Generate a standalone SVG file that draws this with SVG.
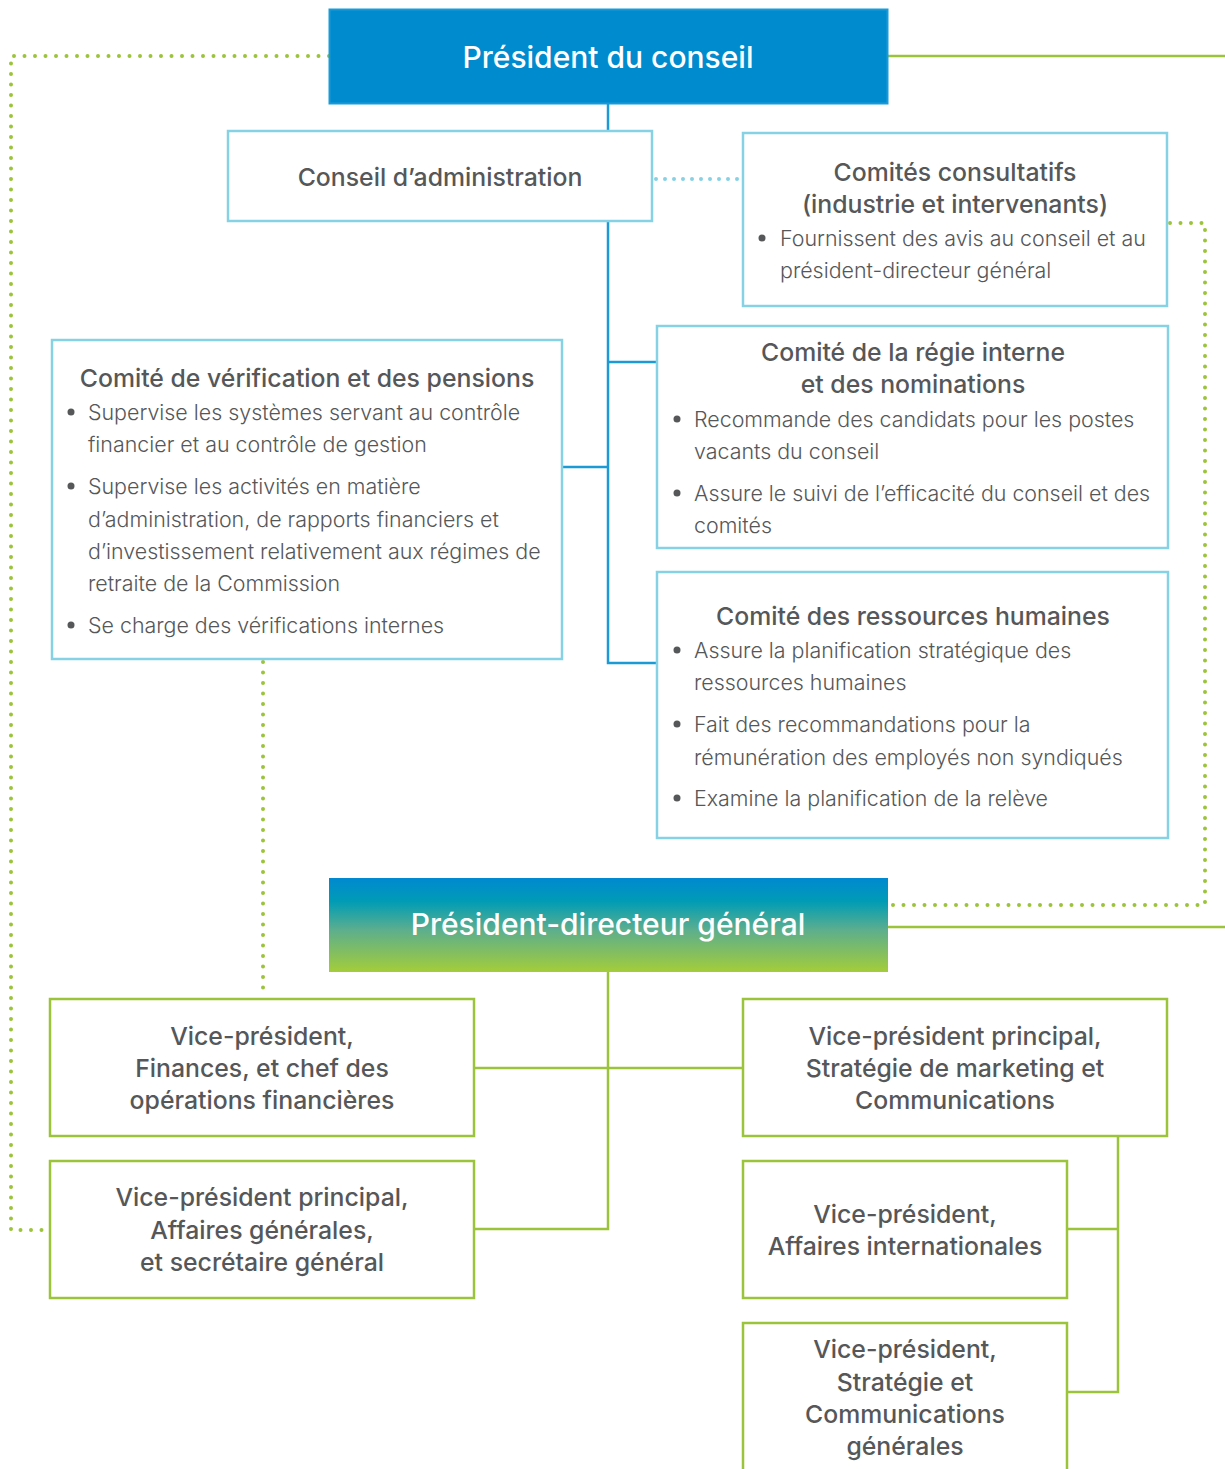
<svg xmlns="http://www.w3.org/2000/svg" width="1225" height="1469" viewBox="0 0 1225 1469">
<defs>
<linearGradient id="pdg" x1="0" y1="0" x2="0" y2="1">
<stop offset="0" stop-color="#0089D0"/>
<stop offset="0.25" stop-color="#009CB5"/>
<stop offset="0.55" stop-color="#5CAE8E"/>
<stop offset="1" stop-color="#A4CD39"/>
</linearGradient>
<style>
.t{font-family:Inter,Roboto,"Liberation Sans",sans-serif;fill:#555759;}
.h{font-size:24.8px;font-weight:500;text-anchor:middle;}
.b{font-size:21.4px;font-weight:300;}
.w{font-family:Inter,Roboto,"Liberation Sans",sans-serif;fill:#fff;font-size:30px;font-weight:500;text-anchor:middle;}
.bbox{fill:#fff;stroke:#86D1E4;stroke-width:2.5;}
.gbox{fill:#fff;stroke:#9CC43A;stroke-width:2.5;}
.bl{fill:none;stroke:#1B9AD6;stroke-width:2.5;}
.gl{fill:none;stroke:#9CC43A;stroke-width:2.5;}
.gd{fill:none;stroke:#9CC43A;stroke-width:4;stroke-linecap:round;stroke-dasharray:0 10.5;}
.bd{fill:none;stroke:#86D1E4;stroke-width:4;stroke-linecap:round;stroke-dasharray:0 9;}
.dot{fill:#555759;}
</style>
</defs>
<g id="connectors">
<polyline class="gd" points="329,56 11,56 11,1230 48,1230"/>
<line class="gl" x1="888" y1="56" x2="1225" y2="56"/>
<polyline class="bl" points="608,104 608,663 657,663"/>
<line class="bl" x1="608" y1="362" x2="657" y2="362"/>
<line class="bl" x1="562" y1="467" x2="608" y2="467"/>
<line class="bd" x1="656" y1="179" x2="741" y2="179"/>
<polyline class="gd" points="1170,223 1205,223 1205,905 890,905"/>
<line class="gl" x1="888" y1="927" x2="1225" y2="927"/>
<line class="gd" x1="263" y1="662" x2="263" y2="997"/>
<polyline class="gl" points="608,972 608,1229 474,1229"/>
<line class="gl" x1="474" y1="1068" x2="743" y2="1068"/>
<polyline class="gl" points="1118,1136 1118,1392 1067,1392"/>
<line class="gl" x1="1067" y1="1229" x2="1118" y2="1229"/>
</g>
<g id="president-conseil">
<rect x="329.5" y="9.5" width="558" height="94" fill="#008BCF" stroke="#1A9BD8" stroke-width="2"/>
<text class="w" x="608" y="68">Président du conseil</text>
</g>
<g id="conseil-admin">
<rect class="bbox" x="228" y="131" width="424" height="90"/>
<text class="t h" x="440" y="186">Conseil d’administration</text>
</g>
<g id="comites-consultatifs">
<rect class="bbox" x="743" y="133" width="424" height="173"/>
<text class="t h" x="955" y="181">Comités consultatifs</text>
<text class="t h" x="955" y="213">(industrie et intervenants)</text>
<circle class="dot" cx="762" cy="238" r="3.5"/>
<text class="t b" x="780" y="246">Fournissent des avis au conseil et au</text>
<text class="t b" x="780" y="278">président-directeur général</text>
</g>
<g id="comite-regie">
<rect class="bbox" x="657" y="326" width="511" height="222"/>
<text class="t h" x="913" y="361">Comité de la régie interne</text>
<text class="t h" x="913" y="393">et des nominations</text>
<circle class="dot" cx="677" cy="419" r="3.5"/>
<text class="t b" x="694" y="427">Recommande des candidats pour les postes</text>
<text class="t b" x="694" y="459">vacants du conseil</text>
<circle class="dot" cx="677" cy="493" r="3.5"/>
<text class="t b" x="694" y="501">Assure le suivi de l’efficacité du conseil et des</text>
<text class="t b" x="694" y="533">comités</text>
</g>
<g id="comite-verification">
<rect class="bbox" x="52" y="340" width="510" height="319"/>
<text class="t h" x="307" y="387">Comité de vérification et des pensions</text>
<circle class="dot" cx="71" cy="412" r="3.5"/>
<text class="t b" x="88" y="420">Supervise les systèmes servant au contrôle</text>
<text class="t b" x="88" y="452">financier et au contrôle de gestion</text>
<circle class="dot" cx="71" cy="486" r="3.5"/>
<text class="t b" x="88" y="494">Supervise les activités en matière</text>
<text class="t b" x="88" y="527">d’administration, de rapports financiers et</text>
<text class="t b" x="88" y="559">d’investissement relativement aux régimes de</text>
<text class="t b" x="88" y="591">retraite de la Commission</text>
<circle class="dot" cx="71" cy="625" r="3.5"/>
<text class="t b" x="88" y="633">Se charge des vérifications internes</text>
</g>
<g id="comite-rh">
<rect class="bbox" x="657" y="572" width="511" height="266"/>
<text class="t h" x="913" y="625">Comité des ressources humaines</text>
<circle class="dot" cx="677" cy="650" r="3.5"/>
<text class="t b" x="694" y="658">Assure la planification stratégique des</text>
<text class="t b" x="694" y="690">ressources humaines</text>
<circle class="dot" cx="677" cy="724" r="3.5"/>
<text class="t b" x="694" y="732">Fait des recommandations pour la</text>
<text class="t b" x="694" y="765">rémunération des employés non syndiqués</text>
<circle class="dot" cx="677" cy="798" r="3.5"/>
<text class="t b" x="694" y="806">Examine la planification de la relève</text>
</g>
<g id="pdg">
<rect x="329" y="878" width="559" height="94" fill="url(#pdg)"/>
<text class="w" x="608" y="935">Président-directeur général</text>
</g>
<g id="vp-finances">
<rect class="gbox" x="50" y="999" width="424" height="137"/>
<text class="t h" x="262" y="1045">Vice-président,</text>
<text class="t h" x="262" y="1077">Finances, et chef des</text>
<text class="t h" x="262" y="1109">opérations financières</text>
</g>
<g id="vp-affaires-generales">
<rect class="gbox" x="50" y="1161" width="424" height="137"/>
<text class="t h" x="262" y="1206">Vice-président principal,</text>
<text class="t h" x="262" y="1239">Affaires générales,</text>
<text class="t h" x="262" y="1271">et secrétaire général</text>
</g>
<g id="vp-marketing">
<rect class="gbox" x="743" y="999" width="424" height="137"/>
<text class="t h" x="955" y="1045">Vice-président principal,</text>
<text class="t h" x="955" y="1077">Stratégie de marketing et</text>
<text class="t h" x="955" y="1109">Communications</text>
</g>
<g id="vp-international">
<rect class="gbox" x="743" y="1161" width="324" height="137"/>
<text class="t h" x="905" y="1223">Vice-président,</text>
<text class="t h" x="905" y="1255">Affaires internationales</text>
</g>
<g id="vp-strategie-communications">
<path class="gl" d="M743,1469 V1323 H1067 V1469"/>
<text class="t h" x="905" y="1358">Vice-président,</text>
<text class="t h" x="905" y="1391">Stratégie et</text>
<text class="t h" x="905" y="1423">Communications</text>
<text class="t h" x="905" y="1455">générales</text>
</g>
</svg>
